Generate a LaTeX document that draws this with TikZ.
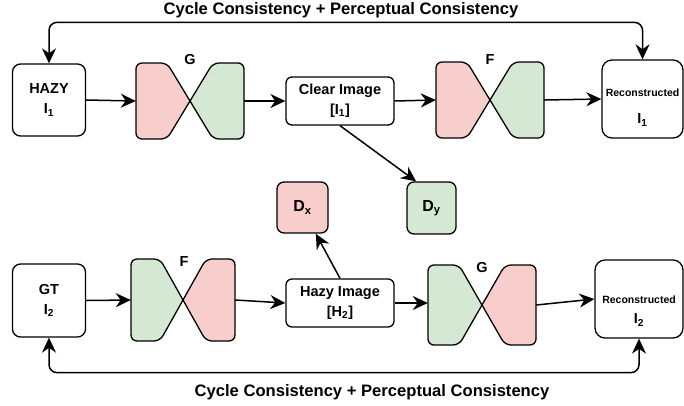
\documentclass[tikz,border=0pt]{standalone}
\usepackage{fontspec}
\setmainfont{Liberation Sans}
\usetikzlibrary{arrows.meta}

\definecolor{discRed}{HTML}{F8CECC}
\definecolor{discGreen}{HTML}{D5E8D4}

\begin{document}
\begin{tikzpicture}[x=1pt,y=-1pt]
% y is flipped so that coordinates read like pixels from the top

% style
\tikzset{
    every node/.style={font=\bfseries\fontsize{14.5}{20}\selectfont, align=center},
    baseLine/.style={draw, line width=1.3pt},
    arrowLine/.style={line width=1.5pt, -{Stealth[length=15pt, width=14pt]}},
    imgBox/.style={baseLine, rounded corners=8pt, inner sep=0pt},
    tieHalf/.style={baseLine, rounded corners=6pt},
    tieBox/.style={inner sep=0pt, minimum width=108pt, minimum height=76pt},
    titleText/.style={font=\bfseries\fontsize{16.6}{20}\selectfont}
}

\useasboundingbox (0,0) rectangle (684,405);

% boxes
\node[imgBox, minimum width=73pt, minimum height=72pt] (hazy) at (49,100) {HAZY\\I\textsubscript{1}};
\node[imgBox, minimum width=108pt, minimum height=48pt, rounded corners=6pt] (clear) at (340,101) {Clear Image\\{[}I\textsubscript{1}{]}};
\node[imgBox, minimum width=81pt, minimum height=78pt, rounded corners=10pt] (rec1) at (642.5,99) {};
\node[imgBox, minimum width=73pt, minimum height=73pt] (gt) at (49,300.5) {GT\\I\textsubscript{2}};
\node[imgBox, minimum width=108pt, minimum height=48pt, rounded corners=6pt] (hazyImg) at (340,303) {Hazy Image\\{[}H\textsubscript{2}{]}};
\node[imgBox, minimum width=88pt, minimum height=78pt, rounded corners=10pt] (rec2) at (639,299) {};

\node[font=\bfseries\fontsize{10.5}{12}\selectfont] (rec1a) at (642.5,93) {Reconstructed};
\node (rec1b) at (642.5,120) {I\textsubscript{1}};
\node[font=\bfseries\fontsize{10.5}{12}\selectfont] (rec2a) at (639,300) {Reconstructed};
\node (rec2b) at (639,320) {I\textsubscript{2}};

% discriminators
\node[imgBox, fill=discRed, minimum width=51pt, minimum height=51pt, rounded corners=7pt, font=\bfseries\fontsize{16}{18}\selectfont] (dx) at (302.5,207.5) {D\textsubscript{x}};
\node[imgBox, fill=discGreen, minimum width=49pt, minimum height=52pt, rounded corners=7pt, font=\bfseries\fontsize{16}{18}\selectfont] (dy) at (431.5,208) {D\textsubscript{y}};

% generators (bow ties)
\foreach \nm/\cx/\cy/\w/\h/\cl/\cr in {
    g1/190/101/54/38/discRed/discGreen,
    f1/490/100/54/38/discRed/discGreen,
    f2/183/300/52/41/discGreen/discRed,
    g2/482/305/54/40/discGreen/discRed} {
    \draw[tieHalf, fill=\cl] (\cx,\cy) -- ++(-23,\h) -- ++(-\w+23,0) -- ++(0,-2*\h) -- ++(\w-23,0) -- (\cx,\cy);
    \draw[tieHalf, fill=\cr] (\cx,\cy) -- ++(23,\h) -- ++(\w-23,0) -- ++(0,-2*\h) -- ++(-\w+23,0) -- (\cx,\cy);
    \node[tieBox, minimum width=2*\w, minimum height=2*\h] (\nm) at (\cx,\cy) {};
}

\node (g1Lbl) at (190,60) {G};
\node (f1Lbl) at (490,60) {F};
\node (f2Lbl) at (184,262) {F};
\node (g2Lbl) at (482,268) {G};

% titles
\node[titleText] (topTitle) at (341,10) {Cycle Consistency + Perceptual Consistency};
\node[titleText] (botTitle) at (372,392) {Cycle Consistency + Perceptual Consistency};

% arrows
\draw[arrowLine] (hazy.east) -- (g1.west);
\draw[arrowLine] (g1.east) -- (clear.west);
\draw[arrowLine] (clear.east) -- (f1.west);
\draw[arrowLine] (f1.east) -- (rec1.west);
\draw[arrowLine] (clear.south) -- (dy.120);
\draw[arrowLine] (gt.east) -- (f2.west);
\draw[arrowLine] (f2.east) -- (hazyImg.west);
\draw[arrowLine] (hazyImg.north) -- (dx.-63);
\draw[arrowLine] (hazyImg.east) -- (hazyImg.east -| g2.west);
\draw[arrowLine] (g2.east) -- (rec2.west);

% cycle loops
\draw[arrowLine, {Stealth[length=15pt, width=14pt]}-{Stealth[length=15pt, width=14pt]}, rounded corners=8pt] (hazy.north) -- ++(0,-41) -| (rec1.north);
\draw[arrowLine, {Stealth[length=15pt, width=14pt]}-{Stealth[length=15pt, width=14pt]}, rounded corners=8pt] (gt.south) -- ++(0,35) -| (rec2.south);

\end{tikzpicture}
\end{document}
